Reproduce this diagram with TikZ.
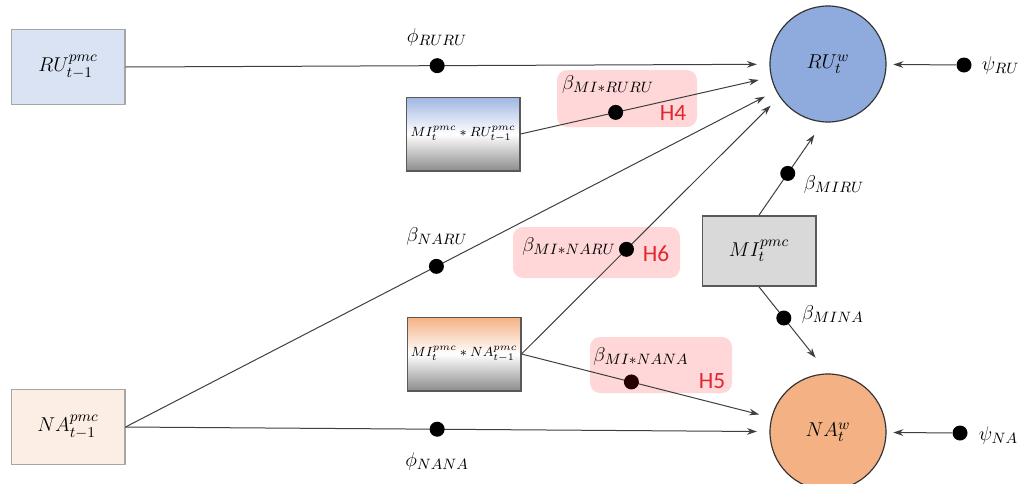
\documentclass[tikz,border=0pt]{standalone}
\usepackage{amsmath}
\usepackage{fontspec}
\usetikzlibrary{arrows.meta, positioning}
\newfontfamily\hfont{Carlito}

\definecolor{rulagfill}{HTML}{DAE3F3}
\definecolor{nalagfill}{HTML}{FCEEE4}
\definecolor{lagborder}{HTML}{A6A6A6}
\definecolor{ruwfill}{HTML}{8FAADC}
\definecolor{nawfill}{HTML}{F4B183}
\definecolor{mifill}{HTML}{D9D9D9}
\definecolor{darkborder}{HTML}{595959}
\definecolor{hypfill}{HTML}{FFD7D9}
\definecolor{hypred}{HTML}{E0282F}
\definecolor{edgegray}{HTML}{3F3F3F}

\begin{document}
\begin{tikzpicture}[x=0.6pt, y=-0.6pt,
    font=\fontsize{13}{15}\selectfont,
    >={Stealth[length=6pt, width=4pt]},
    lagbox/.style={draw=lagborder, line width=1pt, minimum width=68pt, minimum height=45pt},
    intbox/.style={draw=darkborder, line width=1pt, minimum width=68pt, minimum height=44pt,
        inner sep=1pt, font=\fontsize{8.3}{10}\selectfont},
    outcirc/.style={draw=black!80, line width=0.7pt, circle, minimum size=69.6pt},
    dot/.style={circle, fill=black, inner sep=0pt, minimum size=9pt},
    hyp/.style={fill=hypfill, rounded corners=6pt},
    htag/.style={text=hypred, font=\hfont\fontsize{14}{16}\selectfont},
    link/.style={draw=edgegray, line width=0.6pt, ->, shorten >=7.5pt}]

    \useasboundingbox (0,0) rectangle (1022,484);

    % highlighted moderation paths
    \fill[hyp] (557,70) rectangle (697,127);
    \fill[hyp] (513,227) rectangle (680,278);
    \fill[hyp] (590,337) rectangle (732,393);

    % lagged predictors and outcomes
    \node[lagbox, fill=rulagfill] (rulag) at (68,67) {$RU_{t-1}^{pmc}$};
    \node[lagbox, fill=nalagfill] (nalag) at (68,427) {$NA_{t-1}^{pmc}$};
    \node[intbox, top color=ruwfill!85, bottom color=black!45, middle color=white] (miru) at (463,134) {$MI_t^{pmc}*RU_{t-1}^{pmc}$};
    \node[intbox, top color=nawfill, bottom color=black!45, middle color=white] (mina) at (464,354) {$MI_t^{pmc}*NA_{t-1}^{pmc}$};
    \node[draw=darkborder, line width=1pt, fill=mifill, minimum width=68pt, minimum height=42pt] (mi) at (759,251) {$MI_t^{pmc}$};
    \node[outcirc, fill=ruwfill] (ruw) at (828,64) {$RU_t^{w}$};
    \node[outcirc, fill=nawfill] (naw) at (828,432) {$NA_t^{w}$};

    % paths with their coefficients
    \draw[link] (rulag.east) -- node[dot, pos=0.484] (phiru) {} (ruw);
    \draw[link] (miru.east) -- node[dot, pos=0.38] (bmiruru) {} (ruw.193);
    \draw[link] (nalag.east) -- node[dot, pos=0.478] (bnaru) {} (ruw);
    \draw[link] (mina.east) -- node[dot, pos=0.407] (bminaru) {} (ruw.214);
    \draw[link] (mina.east) -- node[dot, pos=0.44, fill=black!85!red] (bminana) {} (naw);
    \draw[link] (nalag.east) -- node[dot, pos=0.484] (phina) {} (naw);
    \draw[link, shorten >=9pt] (mi.north) -- node[dot, pos=0.45] (bmiru) {} (ruw.265);
    \draw[link, shorten >=12pt] (mi.south) -- node[dot, pos=0.36] (bmina) {} (naw.north);

    % residual terms
    \node[dot] (psiru) at (964,65) {};
    \node[dot] (psina) at (960,433) {};
    \draw[link, shorten >=4pt] (psiru) -- (ruw);
    \draw[link, shorten >=4pt] (psina) -- (naw);

    % coefficient labels
    \node (lphiru) at (437,37) {$\phi_{RURU}$};
    \node (lbnaru) at (437,236) {$\beta_{NARU}$};
    \node (lphina) at (437,461) {$\phi_{NANA}$};
    \node[anchor=west] (lbmiru) at (798,184) {$\beta_{MIRU}$};
    \node[anchor=west] (lbmina) at (796,314) {$\beta_{MINA}$};
    \node[anchor=west] (lpsiru) at (976,65) {$\psi_{RU}$};
    \node[anchor=west] (lpsina) at (973,435) {$\psi_{NA}$};
    \node (lbmiruru) at (608,84) {$\beta_{MI*RURU}$};
    \node (lbminaru) at (569,246) {$\beta_{MI*NARU}$};
    \node (lbminana) at (641,356) {$\beta_{MI*NANA}$};

    % hypotheses
    \node[htag] (h4) at (673,113) {H4};
    \node[htag] (h6) at (656,254) {H6};
    \node[htag] (h5) at (712,381) {H5};
\end{tikzpicture}
\end{document}
